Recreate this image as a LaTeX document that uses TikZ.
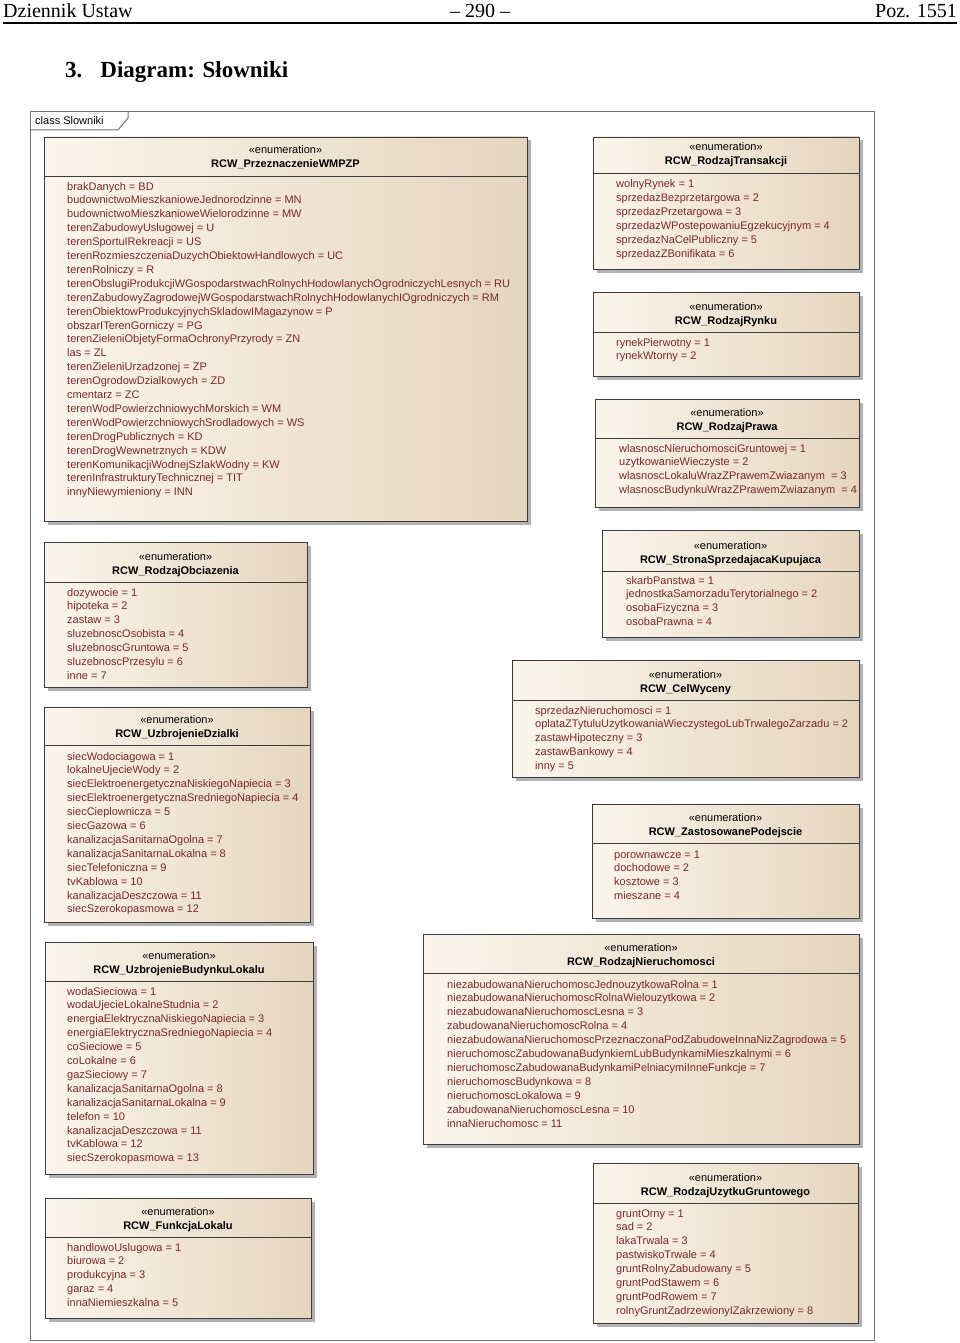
\documentclass[tikz,border=0pt]{standalone}
\usepackage{fontspec}
\setmainfont{Liberation Serif}
\setsansfont{Liberation Sans}
\usetikzlibrary{positioning, shadows}
\definecolor{enumleft}{RGB}{251,245,236}
\definecolor{enumright}{RGB}{229,213,191}
\definecolor{enumline}{RGB}{60,60,60}
\definecolor{enumtext}{RGB}{125,40,40}
\definecolor{framegray}{RGB}{115,115,115}
\tikzset{
  enumbox/.style={
    draw=enumline, rectangle, line width=0.9pt, inner sep=0pt, outer sep=0pt,
    left color=enumleft, right color=enumright,
    drop shadow={shadow xshift=3.5pt, shadow yshift=-3.5pt, fill=black, opacity=0.3}
  },
  sepline/.style={
    draw=enumline, line width=0.9pt
  },
  stereo/.style={
    anchor=base, inner sep=0pt, font=\fontsize{11}{13}\sffamily
  },
  enumname/.style={
    anchor=base, inner sep=0pt, font=\fontsize{11}{13}\sffamily\bfseries
  },
  enumitem/.style={
    anchor=base west, inner sep=0pt, text=enumtext, font=\fontsize{11}{13}\sffamily
  },
  frameline/.style={
    draw=framegray, line width=1pt
  },
}
% box with header: #1 id, #2 x1, #3 top, #4 x2, #5 bottom, #6 separator, #7 class name
\newcommand{\enumclass}[7]{%
  \node[enumbox, anchor=north west, minimum width={#4-#2}, minimum height={#5-#3}] (#1) at (#2,#3) {};
  \draw[sepline] (#2,#6) -- (#4,#6);
  \node[stereo] (#1-st) at ({(#2+#4)/2},#6-22) {«enumeration»};
  \node[enumname] (#1-nm) at ({(#2+#4)/2},#6-8) {#7};
}
% literals: #1 id, #2 x, #3 first baseline, #4 list
\newcommand{\enumitems}[4]{%
  \foreach \lit [count=\k from 0] in {#4}
    \node[enumitem] (#1-\k) at (#2,#3+\k*13.9) {\lit};
}

\begin{document}
\begin{tikzpicture}[x=1pt, y=-1pt]
  \useasboundingbox (0,0) rectangle (960,1343);

  %%% Page header %%%
  \node[anchor=base west, inner sep=0pt, font=\fontsize{20}{24}\selectfont] (hdrleft) at (3,18) {Dziennik Ustaw};
  \node[anchor=base, inner sep=0pt, font=\fontsize{20}{24}\selectfont] (hdrmid) at (480,18) {– 290 –};
  \node[anchor=base east, inner sep=0pt, font=\fontsize{20}{24}\selectfont] (hdrright) at (957,18) {Poz. 1551};
  \draw[line width=2pt] (hdrleft.west |- 0,23) -- (hdrright.east |- 0,23);

  \node[anchor=base west, inner sep=0pt, font=\fontsize{23}{28}\selectfont\bfseries] (title) at (65,78)
    {3.\hspace{18pt}Diagram: Słowniki};

  %%% Diagram frame %%%
  \draw[frameline] (30,112) rectangle (874,1340);
  \draw[frameline] (30,130) -- (118,130) -- (128,118) -- (128,112);
  \node[anchor=base west, inner sep=0pt, font=\fontsize{11}{13}\sffamily] (framelbl) at (35,125) {class Slowniki};

  %%% Left column %%%
  \enumclass{przezn}{44}{137}{527}{521}{176}{RCW\_PrzeznaczenieWMPZP}
  \enumitems{przezn}{67}{190}{brakDanych = BD, budownictwoMieszkanioweJednorodzinne = MN,
    budownictwoMieszkanioweWielorodzinne = MW, terenZabudowyUslugowej = U, terenSportuIRekreacji = US,
    terenRozmieszczeniaDuzychObiektowHandlowych = UC, terenRolniczy = R,
    terenObslugiProdukcjiWGospodarstwachRolnychHodowlanychOgrodniczychLesnych = RU,
    terenZabudowyZagrodowejWGospodarstwachRolnychHodowlanychIOgrodniczych = RM,
    terenObiektowProdukcyjnychSkladowIMagazynow = P, obszarITerenGorniczy = PG,
    terenZieleniObjetyFormaOchronyPrzyrody = ZN, las = ZL, terenZieleniUrzadzonej = ZP,
    terenOgrodowDzialkowych = ZD, cmentarz = ZC, terenWodPowierzchniowychMorskich = WM,
    terenWodPowierzchniowychSrodladowych = WS, terenDrogPublicznych = KD,
    terenDrogWewnetrznych = KDW, terenKomunikacjiWodnejSzlakWodny = KW,
    terenInfrastrukturyTechnicznej = TIT, innyNiewymieniony = INN}

  \enumclass{obciaz}{44}{542}{307}{687}{582}{RCW\_RodzajObciazenia}
  \enumitems{obciaz}{67}{596}{dozywocie = 1, hipoteka = 2, zastaw = 3, sluzebnoscOsobista = 4,
    sluzebnoscGruntowa = 5, sluzebnoscPrzesylu = 6, inne = 7}

  \enumclass{uzbrdz}{44}{707}{310}{922}{745}{RCW\_UzbrojenieDzialki}
  \enumitems{uzbrdz}{67}{760}{siecWodociagowa = 1, lokalneUjecieWody = 2,
    siecElektroenergetycznaNiskiegoNapiecia = 3, siecElektroenergetycznaSredniegoNapiecia = 4,
    siecCieplownicza = 5, siecGazowa = 6, kanalizacjaSanitarnaOgolna = 7,
    kanalizacjaSanitarnaLokalna = 8, siecTelefoniczna = 9, tvKablowa = 10,
    kanalizacjaDeszczowa = 11, siecSzerokopasmowa = 12}

  \enumclass{uzbrbl}{45}{942}{313}{1174}{981}{RCW\_UzbrojenieBudynkuLokalu}
  \enumitems{uzbrbl}{67}{995}{wodaSieciowa = 1, wodaUjecieLokalneStudnia = 2,
    energiaElektrycznaNiskiegoNapiecia = 3, energiaElektrycznaSredniegoNapiecia = 4,
    coSieciowe = 5, coLokalne = 6, gazSieciowy = 7, kanalizacjaSanitarnaOgolna = 8,
    kanalizacjaSanitarnaLokalna = 9, telefon = 10, kanalizacjaDeszczowa = 11,
    tvKablowa = 12, siecSzerokopasmowa = 13}

  \enumclass{funkcja}{45}{1198}{311}{1318}{1237}{RCW\_FunkcjaLokalu}
  \enumitems{funkcja}{67}{1251}{handlowoUslugowa = 1, biurowa = 2, produkcyjna = 3,
    garaz = 4, innaNiemieszkalna = 5}

  %%% Right column %%%
  \enumclass{transakcja}{593}{137}{859}{269}{173}{RCW\_RodzajTransakcji}
  \enumitems{transakcja}{616}{188}{wolnyRynek = 1, sprzedazBezprzetargowa = 2,
    sprzedazPrzetargowa = 3, sprzedazWPostepowaniuEgzekucyjnym = 4,
    sprzedazNaCelPubliczny = 5, sprzedazZBonifikata = 6}

  \enumclass{rynek}{593}{292}{859}{376}{332}{RCW\_RodzajRynku}
  \enumitems{rynek}{616}{346}{rynekPierwotny = 1, rynekWtorny = 2}

  \enumclass{prawo}{595}{399}{859}{507}{438}{RCW\_RodzajPrawa}
  \enumitems{prawo}{619}{452}{wlasnoscNieruchomosciGruntowej = 1, uzytkowanieWieczyste = 2,
    wlasnoscLokaluWrazZPrawemZwiazanym \ = 3, wlasnoscBudynkuWrazZPrawemZwiazanym \ = 4}

  \enumclass{strona}{602}{530}{859}{637}{571}{RCW\_StronaSprzedajacaKupujaca}
  \enumitems{strona}{626}{584}{skarbPanstwa = 1, jednostkaSamorzaduTerytorialnego = 2,
    osobaFizyczna = 3, osobaPrawna = 4}

  \enumclass{cel}{512}{660}{859}{777}{700}{RCW\_CelWyceny}
  \enumitems{cel}{535}{714}{sprzedazNieruchomosci = 1,
    oplataZTytuluUzytkowaniaWieczystegoLubTrwalegoZarzadu = 2, zastawHipoteczny = 3,
    zastawBankowy = 4, inny = 5}

  \enumclass{podejscie}{592}{804}{859}{918}{843}{RCW\_ZastosowanePodejscie}
  \enumitems{podejscie}{614}{858}{porownawcze = 1, dochodowe = 2, kosztowe = 3, mieszane = 4}

  \enumclass{nieruch}{423}{934}{859}{1144}{973}{RCW\_RodzajNieruchomosci}
  \enumitems{nieruch}{447}{988}{niezabudowanaNieruchomoscJednouzytkowaRolna = 1,
    niezabudowanaNieruchomoscRolnaWielouzytkowa = 2, niezabudowanaNieruchomoscLesna = 3,
    zabudowanaNieruchomoscRolna = 4,
    niezabudowanaNieruchomoscPrzeznaczonaPodZabudoweInnaNizZagrodowa = 5,
    nieruchomoscZabudowanaBudynkiemLubBudynkamiMieszkalnymi = 6,
    nieruchomoscZabudowanaBudynkamiPelniacymiInneFunkcje = 7, nieruchomoscBudynkowa = 8,
    nieruchomoscLokalowa = 9, zabudowanaNieruchomoscLesna = 10, innaNieruchomosc = 11}

  \enumclass{uzytek}{593}{1163}{858}{1323}{1203}{RCW\_RodzajUzytkuGruntowego}
  \enumitems{uzytek}{616}{1217}{gruntOrny = 1, sad = 2, lakaTrwala = 3, pastwiskoTrwale = 4,
    gruntRolnyZabudowany = 5, gruntPodStawem = 6, gruntPodRowem = 7,
    rolnyGruntZadrzewionyIZakrzewiony = 8}

\end{tikzpicture}
\end{document}
